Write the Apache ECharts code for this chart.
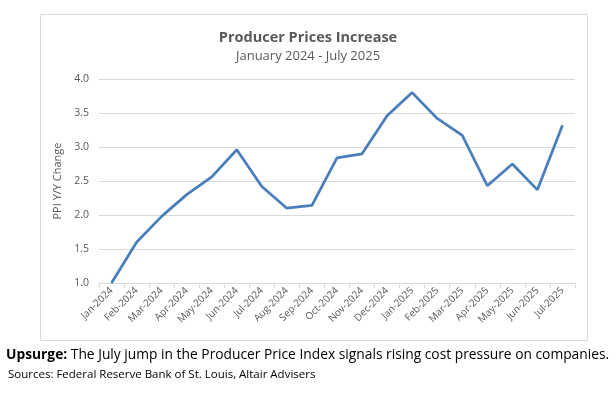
<!DOCTYPE html>
<html><head><meta charset="utf-8">
<script src="https://cdn.jsdelivr.net/npm/echarts@6/dist/echarts.min.js"></script>
<style>html,body{margin:0;padding:0;background:#fff}#c{width:616px;height:395px}</style>
</head><body><div id="c"></div>
<script>
const categories = ["Jan-2024","Feb-2024","Mar-2024","Apr-2024","May-2024","Jun-2024","Jul-2024","Aug-2024","Sep-2024","Oct-2024","Nov-2024","Dec-2024","Jan-2025","Feb-2025","Mar-2025","Apr-2025","May-2025","Jun-2025","Jul-2025"];
const ppiValues = [1.0,1.60,1.98,2.30,2.56,2.96,2.42,2.10,2.14,2.84,2.90,3.46,3.80,3.42,3.17,2.43,2.75,2.37,3.32];
const yTicks = {min:1.0, max:4.0, interval:0.5};
const FONT = "Open Sans";
const chart = echarts.init(document.getElementById('c'), null, {renderer:'canvas'});
chart.setOption({
  animation:false,
  textStyle:{fontFamily:FONT},
  graphic:[{type:'rect', shape:{x:40.5,y:14.5,width:547,height:326}, style:{fill:'none',stroke:'#d9d9d9',lineWidth:1}, z:-1}],
  title:[
    {text:'Producer Prices Increase', left:'center', top:25, textStyle:{fontFamily:FONT,fontSize:14.5,fontWeight:'bold',color:'#595959'}},
    {text:'January 2024 - July 2025', left:'center', top:45, textStyle:{fontFamily:FONT,fontSize:13,fontWeight:'normal',color:'#595959'}},
    {text:'{b|Upsurge:} The July jump in the Producer Price Index signals rising cost pressure on companies.', left:1, top:343,
      textStyle:{fontFamily:FONT,fontSize:13.8,fontWeight:'normal',color:'#000',rich:{b:{fontFamily:FONT,fontSize:13.8,fontWeight:'bold',color:'#000'}}}},
    {text:'Sources: Federal Reserve Bank of St. Louis, Altair Advisers', left:3, top:364, textStyle:{fontFamily:FONT,fontSize:11.5,fontWeight:'normal',color:'#000'}}
  ],
  grid:{left:99, right:41, top:79, bottom:112, containLabel:false},
  xAxis:{type:'category', data:categories, boundaryGap:true,
    axisLine:{lineStyle:{color:'#d9d9d9'}},
    axisTick:{show:true, length:5, lineStyle:{color:'#d9d9d9'}},
    axisLabel:{rotate:45, color:'#595959', fontSize:10, fontFamily:FONT, margin:6, interval:0}},
  yAxis:{type:'value', min:yTicks.min, max:yTicks.max, interval:yTicks.interval,
    name:'PPI Y/Y Change', nameLocation:'middle', nameGap:27, nameRotate:90,
    nameTextStyle:{color:'#595959', fontSize:11, fontFamily:FONT},
    axisLine:{show:false}, axisTick:{show:false},
    axisLabel:{color:'#595959', fontSize:10.5, fontFamily:FONT, formatter:v=>v.toFixed(1), margin:10},
    splitLine:{lineStyle:{color:'#d9d9d9'}}},
  series:[{type:'line', data:ppiValues, symbol:'none', lineStyle:{color:'#4a7ebb', width:2.75}, clip:true}]
});
</script></body></html>
